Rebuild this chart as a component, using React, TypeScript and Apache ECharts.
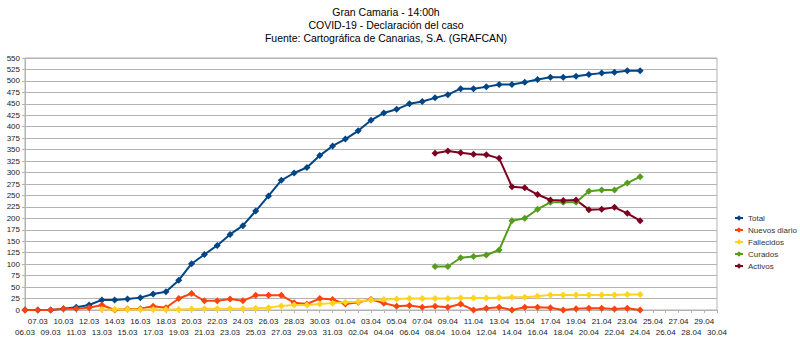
import React, { useEffect, useRef } from "react";
import * as echarts from "echarts";

const categories: string[] = [
  "06.03", "07.03", "09.03", "10.03", "11.03", "12.03", "13.03", "14.03", "15.03", "16.03",
  "17.03", "18.03", "19.03", "20.03", "21.03", "22.03", "23.03", "24.03", "25.03", "26.03",
  "27.03", "28.03", "29.03", "30.03", "31.03", "01.04", "02.04", "03.04", "04.04", "05.04",
  "06.04", "07.04", "08.04", "09.04", "10.04", "11.04", "12.04", "13.04", "14.04", "15.04",
  "16.04", "17.04", "18.04", "19.04", "20.04", "21.04", "22.04", "23.04", "24.04", "25.04",
  "26.04", "27.04", "28.04", "29.04", "30.04",
];

const total: number[] = [
  0, 0, 0, 3, 6, 11, 22, 22, 24, 27, 35, 40, 65, 101, 121, 141, 165, 184, 216, 249,
  283, 299, 311, 337, 358, 373, 391, 414, 430, 438, 450, 455, 463, 470, 483, 483, 487, 492, 492, 497,
  503, 508, 508, 510, 514, 517, 519, 522, 522,
];

const nuevosDiario: number[] = [
  0, 0, 0, 3, 3, 5, 11, 0, 2, 3, 8, 5, 25, 36, 20, 20, 24, 20, 32, 32,
  32, 16, 13, 25, 23, 13, 17, 23, 15, 8, 10, 6, 8, 6, 13, 0, 4, 6, 0, 6,
  6, 5, 0, 3, 4, 4, 2, 4, 0,
];

// Fallecidos starts on 13.03 (index 6)
const fallecidosStart = 6;
const fallecidos: number[] = [
  1, 1, 1, 1, 1, 1, 1, 2, 3, 3, 3, 3, 4, 5, 9, 11, 11, 13, 15, 17,
  18, 22, 23, 24, 25, 25, 25, 25, 26, 26, 26, 27, 28, 28, 30, 33, 33, 33, 33, 33,
  33, 34, 34,
];

// Curados and Activos start on 08.04 (index 32)
const recoveryStart = 32;
const curados: number[] = [95, 95, 114, 117, 120, 131, 195, 200, 220, 235, 235, 235, 259, 262, 262, 277, 291];
const activos: number[] = [342, 347, 343, 340, 339, 331, 269, 267, 252, 240, 239, 240, 219, 220, 224, 211, 195];

const titleLines: string[] = [
  "Gran Camaria - 14:00h",
  "COVID-19 - Declaración del caso",
  "Fuente: Cartográfica de Canarias, S.A. (GRAFCAN)",
];

const seriesNames = ["Total", "Nuevos diario", "Fallecidos", "Curados", "Activos"];
const colors = ["#004586", "#ff420e", "#ffd320", "#579d1c", "#7e0021"];

function pad(values: number[], start: number): (number | null)[] {
  const out: (number | null)[] = [];
  for (let i = 0; i < start; i++) out.push(null);
  return out.concat(values);
}

const FONT = "'Liberation Sans', Arial, sans-serif";

export default function App() {
  const ref = useRef<HTMLDivElement>(null);
  useEffect(() => {
    if (!ref.current) return;
    const chart = echarts.init(ref.current, null, { renderer: "svg" });
    const data = [
      total,
      nuevosDiario,
      pad(fallecidos, fallecidosStart),
      pad(curados, recoveryStart),
      pad(activos, recoveryStart),
    ];
    chart.setOption({
      animation: false,
      backgroundColor: "#ffffff",
      color: colors,
      textStyle: { fontFamily: FONT },
      graphic: titleLines.map((t, i) => ({
        type: "text",
        x: 386,
        y: 12 + i * 13,
        style: {
          text: t,
          fill: "#000",
          font: `10.5px ${FONT}`,
          textAlign: "center",
          textVerticalAlign: "middle",
        },
      })),
      legend: {
        orient: "vertical",
        left: 729,
        top: 209,
        itemWidth: 8,
        itemHeight: 7,
        itemGap: 4,
        data: seriesNames,
        textStyle: { fontSize: 8, color: "#333", fontFamily: FONT },
      },
      grid: {
        left: 25,
        right: 83,
        top: 58,
        bottom: 33,
        show: true,
        borderColor: "#b3b3b3",
        borderWidth: 1,
      },
      xAxis: {
        type: "category",
        data: categories,
        boundaryGap: false,
        axisLine: { lineStyle: { color: "#b3b3b3" } },
        axisTick: { show: true, interval: 0, length: 3, lineStyle: { color: "#b3b3b3" } },
        axisLabel: {
          interval: 0,
          fontSize: 8,
          color: "#222",
          margin: 6,
          lineHeight: 11,
          hideOverlap: false,
          formatter: (v: string, i: number) => (i % 2 === 0 ? "\n" + v : v),
        },
        splitLine: { show: false },
      },
      yAxis: {
        type: "value",
        min: 0,
        max: 550,
        interval: 25,
        axisLine: { show: true, lineStyle: { color: "#b3b3b3" } },
        axisTick: { show: true, length: 3, lineStyle: { color: "#b3b3b3" } },
        axisLabel: { fontSize: 8, color: "#222", margin: 5 },
        splitLine: { lineStyle: { color: "#b3b3b3", width: 1 } },
      },
      series: seriesNames.map((name, i) => ({
        name,
        type: "line",
        data: data[i],
        symbol: "diamond",
        symbolSize: 7,
        lineStyle: { width: 2, color: colors[i] },
        itemStyle: { color: colors[i] },
        connectNulls: false,
      })),
    });
    return () => chart.dispose();
  }, []);
  return (
    <div
      ref={ref}
      style={{ position: "fixed", left: 0, top: 0, width: 800, height: 343 }}
    />
  );
}
